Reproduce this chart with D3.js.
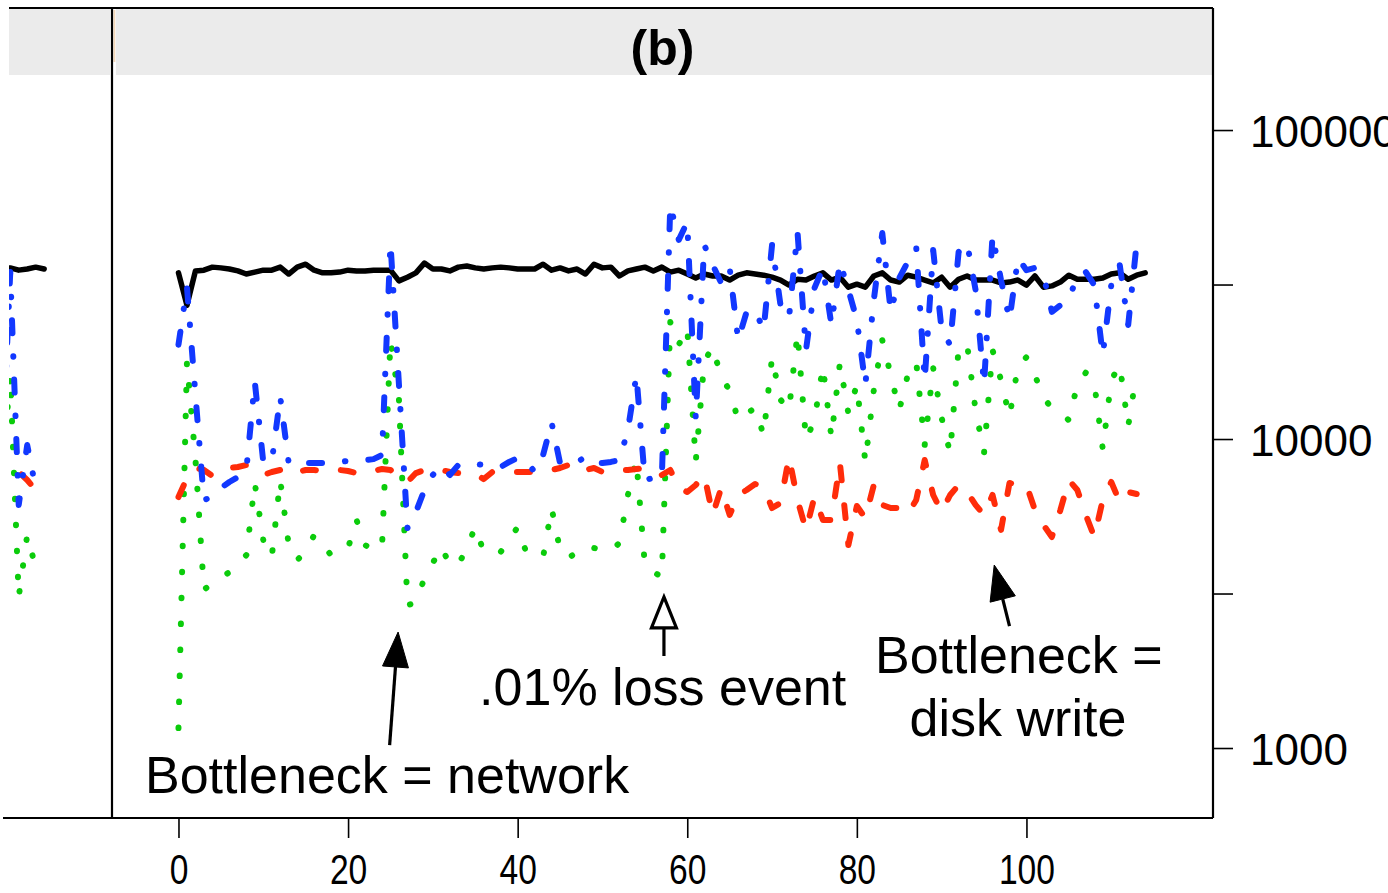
<!DOCTYPE html>
<html><head><meta charset="utf-8">
<script src="https://cdn.jsdelivr.net/npm/d3@7"></script>
<style>
body{margin:0;background:#fff}
svg{display:block}
text{font-family:"Liberation Sans",Arial,Helvetica,sans-serif;fill:#000}
</style></head>
<body><svg id="c" width="1388" height="893"></svg>
<script>
// ---------- data ----------
const xTicks = [0, 20, 40, 60, 80, 100];
const yTicks = [1000, 3162.28, 10000, 31622.8, 100000];
const yTickLabels = ["1000", "", "10000", "", "100000"];
const panelTitle = "(b)";

// panel (b) series, one value per time step starting at 0
const blackSeries = [34500,27100,35000,35200,36000,35800,35500,35000,34200,34700,
 35200,35200,36000,34200,36000,36800,35200,34500,34500,34700,
 35200,35000,35000,35200,35200,35200,32500,33400,34500,37100,
 35500,35500,35000,36000,36300,35800,35500,35800,36000,35800,
 35500,35500,35500,36800,35200,35800,35000,35500,34200,36800,
 35800,36000,33700,35000,35500,36000,35000,36000,34700,35200,
 34200,33200,34200,33700,33700,32700,33900,34500,34200,33900,
 33400,32700,31500,32900,32700,33700,34500,32700,33400,31000,
 31700,31000,33700,34500,32700,32200,33900,33400,32700,32000,
 33400,31000,32900,33700,32700,32700,32700,32000,32200,32700,
 31500,33700,31000,31300,32200,33900,32900,32900,32900,33200,
 34200,34500,32900,33900,34500];
const blueSeries = [20200,31000,13900,6350,6490,6940,7260,7530,7940,15300,
 8430,8430,13700,8360,8430,8360,8360,8360,8360,8430,
 8490,8490,8550,8610,8880,43100,15000,5150,5800,6840,
 7650,8180,7650,8240,8360,8300,8240,8120,8120,8430,
 8680,8490,7820,8880,11300,8360,8360,8430,8740,8360,
 8360,8430,8550,10700,16100,7370,7480,7480,57200,44100,
 50400,11700,42500,36600,32000,35800,20900,25800,26200,22500,
 42500,27100,24700,46800,19400,30800,35800,23400,37400,30400,
 24300,15000,28200,46400,25800,33200,37400,41800,15500,40900,
 22500,20200,40300,43100,30400,15000,45700,32700,24300,38500,
 35200,35800,33900,25800,27100,28200,33900,34700,31500,18700,
 31500,36600,23400,43100];
const greenSeries = [1160,17800,8610,3250,3420,3550,3710,3910,4210,7200,
 4710,4150,7370,4540,4060,4310,4890,4540,4210,4310,
 4440,5470,4540,4370,4440,20900,13400,2900,2950,3550,
 3970,4480,3910,3910,4440,5190,4310,4310,4310,4710,
 5190,4310,4210,4150,5980,4370,4120,4310,4510,4440,
 4370,4340,4610,6590,8550,3910,3710,3580,23900,20200,
 22900,8430,17800,19900,15800,14400,11500,12100,12600,10300,
 18400,13400,12400,22000,9930,11500,17200,10100,17600,12100,
 15000,8430,14400,20900,16100,12400,16100,17800,9560,17000,
 11700,9010,19600,20300,12400,9010,19400,15500,11800,17200,
 18400,16100,13600,12600,12200,11500,15000,16400,15200,9280,
 15500,17400,11000,16500];
const redSeries = [6490,7480,8060,7940,7590,7940,8060,8120,8240,7820,
 7650,7820,7940,8120,7820,7940,7940,7880,7940,7940,
 7880,7760,7760,7880,8000,7940,7480,7260,7760,7940,
 7940,7940,7820,7760,7820,7700,7420,7820,7820,7820,
 7820,7820,7820,7940,7940,8060,8240,7820,7940,8060,
 7820,7880,7940,7940,8000,8060,8000,7650,7940,6940,
 6740,7100,7650,5680,6940,5680,6590,6840,7150,6990,
 5980,6210,8740,6350,5080,6490,5470,5470,8360,4540,
 6070,5550,7100,6120,5980,5980,5720,6350,8550,6590,
 5810,6590,7100,6740,6120,5680,6590,5080,7210,7100,
 7100,5890,5270,4820,5890,7370,6840,5680,4820,6350,
 7260,6260,6740,6640];

// panel (a): only its last steps are inside the picture
const panelATime = [108,109,110,111,112,113,114];
const panelABlack = [35200,35800,35800,35200,35500,36000,35500];
const panelABlue  = [28200,7940,34700,6120,9560,6940];
const panelAGreen = [9210,7370,16100,3080,4890,3830];
const panelARed   = [7940,8240,8550,7820,7370,6840];

// annotations (data units)
const notes = [
  {text:"Bottleneck = network", x:24.6, y:715},
  {text:".01% loss event", x:57.1, y:1378},
  {text:"Bottleneck =", x:99.1, y:1748},
  {text:"disk write", x:99.0, y:1094}
];
const arrows = [
  {from:[24.9,1022], to:[25.9,2373], open:false},
  {from:[57.25,1985], to:[57.25,3082], open:true},
  {from:[98.0,2482], to:[96.2,3910], open:false}
];

// ---------- layout ----------
const L=112, R=1213, T=75, B=818, TOP=8, SHIFT=1101;
const svg = d3.select("#c");
const x  = d3.scaleLinear().domain([-7.84,122.0]).range([L,R]);
const xa = d3.scaleLinear().domain([-7.84,122.0]).range([L-SHIFT,R-SHIFT]);
const y  = d3.scaleLog().domain([593.6,150700]).range([B,T]);

const defs = svg.append("defs");
defs.append("clipPath").attr("id","clipA").append("rect").attr("x",9).attr("y",T).attr("width",L-9).attr("height",B-T);
defs.append("clipPath").attr("id","clipB").append("rect").attr("x",L).attr("y",T).attr("width",R-L).attr("height",B-T);

// strips
svg.append("rect").attr("x",9).attr("y",TOP).attr("width",L-2-9).attr("height",T-TOP).attr("fill","#ebebeb");
svg.append("rect").attr("x",L+4).attr("y",TOP).attr("width",R-L-5).attr("height",T-TOP).attr("fill","#ebebeb");
svg.append("rect").attr("x",L+1.5).attr("y",TOP+2).attr("width",1.8).attr("height",52).attr("fill","#f2d6b8");
svg.append("text").attr("x",(L+R)/2).attr("y",65).attr("text-anchor","middle")
  .attr("font-size",50).attr("font-weight","bold").text(panelTitle);

// series styles
const styles = {
  black:{stroke:"#000", dash:null, w:5.5},
  green:{stroke:"#0bcc0b", dash:"0.5,25.5", w:6},
  red:{stroke:"#ff2c0a", dash:"13,25", w:6},
  blue:{stroke:"#1238ff", dash:"13,23,0.5,23", w:6}
};
function drawLine(g, sx, times, vals, st){
  const line = d3.line().x((d,i)=>sx(times ? times[i] : i)).y(d=>y(d));
  g.append("path").datum(vals).attr("d",line).attr("fill","none")
    .attr("stroke",st.stroke).attr("stroke-width",st.w)
    .attr("stroke-linecap","round").attr("stroke-linejoin","round")
    .attr("stroke-dasharray",st.dash);
}
const gA = svg.append("g").attr("clip-path","url(#clipA)");
drawLine(gA, xa, panelATime, panelABlack, styles.black);
drawLine(gA, xa, panelATime, panelAGreen, styles.green);
drawLine(gA, xa, panelATime, panelARed, styles.red);
drawLine(gA, xa, panelATime, panelABlue, styles.blue);

const gB = svg.append("g").attr("clip-path","url(#clipB)");
drawLine(gB, x, null, blackSeries, styles.black);
drawLine(gB, x, null, greenSeries, styles.green);
drawLine(gB, x, null, redSeries, styles.red);
drawLine(gB, x, null, blueSeries, styles.blue);

// frame
const fr = svg.append("g").attr("stroke","#000").attr("stroke-width",2.2);
fr.append("line").attr("x1",9).attr("x2",R).attr("y1",TOP).attr("y2",TOP);
fr.append("line").attr("x1",L).attr("x2",L).attr("y1",TOP).attr("y2",B);
fr.append("line").attr("x1",R).attr("x2",R).attr("y1",TOP).attr("y2",B);
fr.append("line").attr("x1",3).attr("x2",R).attr("y1",B).attr("y2",B);

// axes
const ax = svg.append("g").attr("transform",`translate(0,${B})`)
  .call(d3.axisBottom(x).tickValues(xTicks).tickSize(20).tickPadding(16).tickFormat(d3.format("d")));
ax.select(".domain").remove();
ax.selectAll("line").attr("stroke","#000").attr("stroke-width",1.6);
ax.selectAll("text").attr("font-size",42).attr("font-family",null).attr("transform","scale(0.8,1)");

const ay = svg.append("g").attr("transform",`translate(${R},0)`)
  .call(d3.axisRight(y).tickValues(yTicks).tickSize(20).tickPadding(17).tickFormat((d,i)=>yTickLabels[i]));
ay.select(".domain").remove();
ay.selectAll("line").attr("stroke","#000").attr("stroke-width",1.6);
ay.selectAll("text").attr("font-size",44).attr("font-family",null).attr("dy","0.38em");

// annotations
const ag = svg.append("g");
notes.forEach(n=>{
  ag.append("text").attr("x",x(n.x)).attr("y",y(n.y)).attr("text-anchor","middle")
    .attr("font-size",52).text(n.text);
});
arrows.forEach(a=>{
  const x0=x(a.from[0]), y0=y(a.from[1]), x1=x(a.to[0]), y1=y(a.to[1]);
  const dx=x1-x0, dy=y1-y0, len=Math.hypot(dx,dy), ux=dx/len, uy=dy/len;
  const hl = a.open ? 31 : 35, hw = a.open ? 12.5 : 13;
  const bx=x1-ux*hl, by=y1-uy*hl;
  ag.append("line").attr("x1",x0).attr("y1",y0).attr("x2",bx).attr("y2",by)
    .attr("stroke","#000").attr("stroke-width",3.2);
  ag.append("path").attr("d",`M${x1},${y1}L${bx-uy*hw},${by+ux*hw}L${bx+uy*hw},${by-ux*hw}Z`)
    .attr("fill",a.open?"#fff":"#000").attr("stroke","#000").attr("stroke-width",a.open?3.2:1)
    .attr("stroke-linejoin","miter");
});
</script></body></html>
